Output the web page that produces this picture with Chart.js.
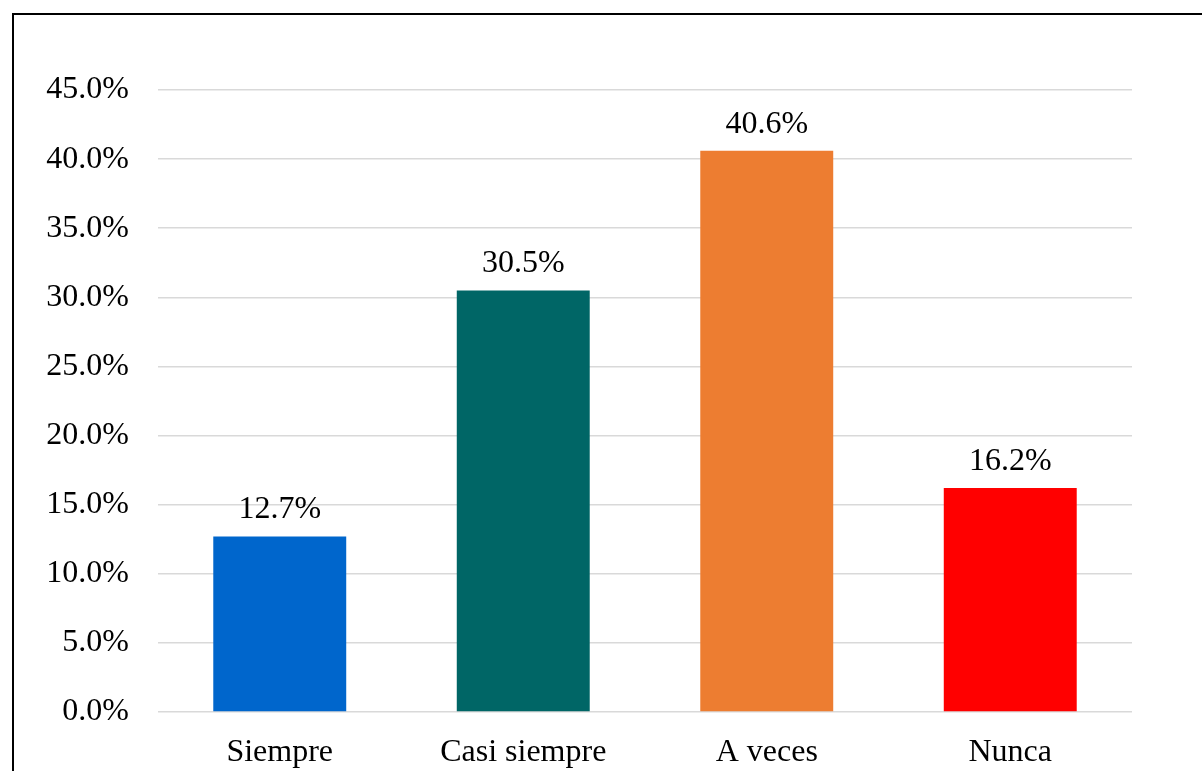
<!DOCTYPE html>
<html>
<head>
<meta charset="utf-8">
<title>Frecuencia</title>
<script src="https://cdn.jsdelivr.net/npm/chart.js@4/dist/chart.umd.min.js"></script>
<style>
  html, body { margin: 0; padding: 0; background: #fff; }
  #wrap { position: relative; width: 1202px; height: 771px; }
</style>
</head>
<body>
<div id="wrap"><canvas id="chart" width="1202" height="771"></canvas></div>
<script>
// Response categories and their shares (%)
const categories = ['Siempre', 'Casi siempre', 'A veces', 'Nunca'];
const shares = [12.7, 30.5, 40.6, 16.2];
const barColors = ['#0066CC', '#006666', '#ED7D31', '#FF0000'];
const yTicks = [0, 5, 10, 15, 20, 25, 30, 35, 40, 45];

const FONT = '"Liberation Serif", "Times New Roman", serif';

// Thin black frame along the top and left edges
const framePlugin = {
    id: 'frame',
    beforeDraw(chart) {
        const ctx = chart.ctx;
        ctx.save();
        ctx.strokeStyle = '#000';
        ctx.lineWidth = 2;
        ctx.beginPath();
        ctx.moveTo(13, 800);
        ctx.lineTo(13, 14);
        ctx.lineTo(1300, 14);
        ctx.stroke();
        ctx.restore();
    }
};

// Percentage written above each bar
const valueLabels = {
    id: 'valueLabels',
    afterDatasetsDraw(chart) {
        const ctx = chart.ctx;
        const meta = chart.getDatasetMeta(0);
        ctx.save();
        ctx.font = '32px ' + FONT;
        ctx.fillStyle = '#000';
        ctx.textAlign = 'center';
        ctx.textBaseline = 'alphabetic';
        meta.data.forEach((bar, i) => {
            ctx.fillText(shares[i].toFixed(1) + '%', bar.x, bar.y - 18);
        });
        ctx.restore();
    }
};

new Chart(document.getElementById('chart'), {
    type: 'bar',
    data: {
        labels: categories,
        datasets: [{
            data: shares,
            backgroundColor: barColors,
            borderWidth: 0,
            barPercentage: 0.546,
            categoryPercentage: 1
        }]
    },
    options: {
        responsive: false,
        animation: false,
        layout: { padding: { top: 90, right: 70, bottom: 0, left: 0 } },
        plugins: {
            legend: { display: false },
            tooltip: { enabled: false }
        },
        scales: {
            x: {
                grid: { display: false },
                border: { display: false },
                ticks: {
                    color: '#000',
                    font: { family: FONT, size: 32 },
                    padding: 13
                },
                afterFit(scale) { scale.height = 59; }
            },
            y: {
                min: 0,
                max: 45,
                afterBuildTicks(scale) {
                    scale.ticks = yTicks.map(v => ({ value: v }));
                },
                grid: { color: '#d9d9d9', lineWidth: 1.5, drawTicks: false },
                border: { display: false },
                ticks: {
                    color: '#000',
                    font: { family: FONT, size: 32 },
                    padding: 29,
                    callback: v => v.toFixed(1) + '%'
                },
                afterFit(scale) { scale.width = 158; }
            }
        }
    },
    plugins: [framePlugin, valueLabels]
});
</script>
</body>
</html>
